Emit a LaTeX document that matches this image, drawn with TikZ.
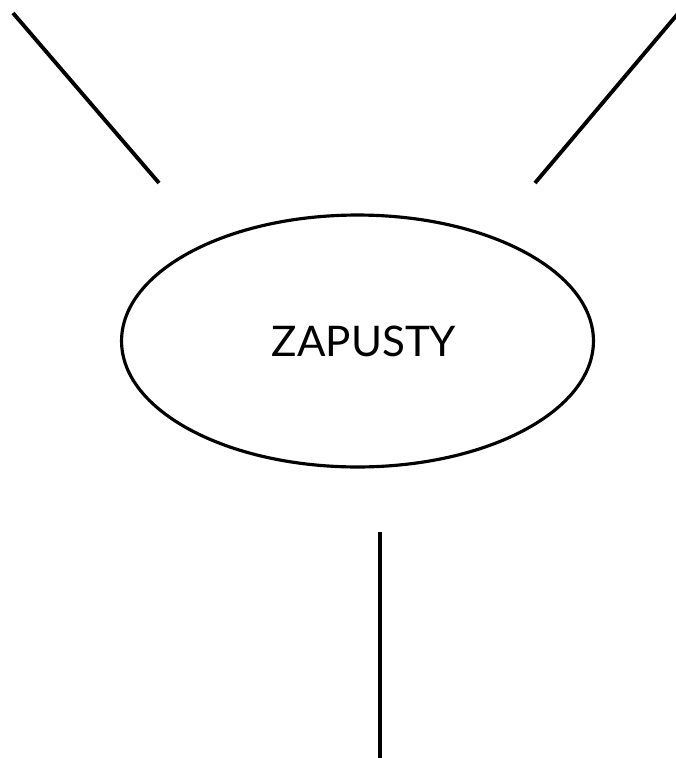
\documentclass[tikz,border=0pt]{standalone}
\usepackage{fontspec}
\setmainfont{Lato}
\usetikzlibrary{shapes.geometric}

\tikzset{
  spoke/.style={color=black,line width=2.2pt},
  blob/.style={draw,ellipse,line width=1.8pt,minimum width=9.44cm,minimum height=5.04cm,inner sep=0pt,font=\fontsize{24}{27}\selectfont}
}

\begin{document}
\begin{tikzpicture}[x=0.02cm,y=-0.02cm]

   \useasboundingbox (0,0) rectangle (676,758);
   \clip (0,0) rectangle (676,758);

   \node[blob] (zapusty) at (357.5,341) {\hspace*{0.26cm}ZAPUSTY};

   \coordinate (tl1) at (13,13);
   \coordinate (tl2) at (159,183);
   \coordinate (tr1) at (681,10);
   \coordinate (tr2) at (535,183);
   \coordinate (b1) at (380,532);
   \coordinate (b2) at (380,770);

   \draw[spoke] (tl1) -- (tl2);
   \draw[spoke] (tr1) -- (tr2);
   \draw[spoke] (b1) -- (b2);

\end{tikzpicture}
\end{document}
